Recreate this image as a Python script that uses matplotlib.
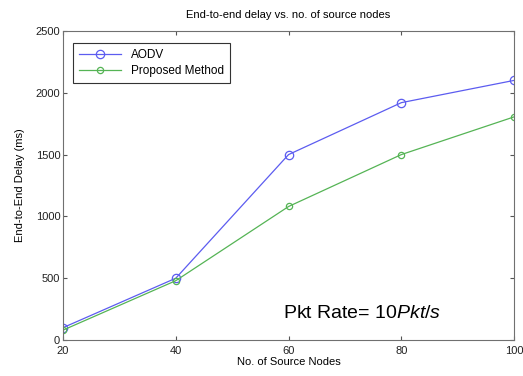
import numpy as np
import matplotlib
matplotlib.use("Agg")
import matplotlib.pyplot as plt

plt.rcParams['font.family'] = ['Liberation Sans', 'DejaVu Sans']
plt.rcParams['mathtext.fontset'] = 'custom'
plt.rcParams['mathtext.rm'] = 'Liberation Sans'
plt.rcParams['mathtext.it'] = 'Liberation Sans:italic'

# data
nodes = [20, 40, 60, 80, 100]
aodv = [100, 500, 1500, 1920, 2100]
proposed = [80, 480, 1080, 1500, 1805]
x_ticks = [20, 40, 60, 80, 100]
y_ticks = [0, 500, 1000, 1500, 2000, 2500]

fig = plt.figure(figsize=(5.23, 3.76), dpi=100)
ax = fig.add_axes([0.1205, 0.0957, 0.8625, 0.822])

ax.plot(nodes, aodv, '-o', color='#5c5cf0', lw=0.9, ms=6,
        mfc='none', mew=0.9, label='AODV')
ax.plot(nodes, proposed, '-o', color='#55b455', lw=0.9, ms=4.5,
        mfc='none', mew=0.9, label='Proposed Method')

ax.set_xlim(20, 100)
ax.set_ylim(0, 2500)
ax.set_xticks(x_ticks)
ax.set_yticks(y_ticks)
ax.tick_params(direction='in', top=True, right=True, length=3,
               labelsize=8, colors='#555555', labelcolor='#222222', pad=2)
ax.tick_params(axis='x', pad=4)
for s in ax.spines.values():
    s.set_color('#707070')
    s.set_linewidth(0.8)

ax.set_title('End-to-end delay vs. no. of source nodes', fontsize=8, pad=9)
ax.set_xlabel('No. of Source Nodes', fontsize=8, labelpad=1)
ax.set_ylabel('End-to-End Delay (ms)', fontsize=8, labelpad=8)

leg = ax.legend(loc='upper left', bbox_to_anchor=(0.022, 0.96), fontsize=8.5,
                fancybox=False, edgecolor='#333333', framealpha=1,
                handlelength=3.6, borderpad=0.5, labelspacing=0.35,
                borderaxespad=0)
leg.get_frame().set_linewidth(0.8)

ax.text(0.487, 0.07, 'Pkt Rate= 10$\\mathit{Pkt/s}$', transform=ax.transAxes,
        fontsize=14, color='black')

fig.savefig('out.png', dpi=100)
